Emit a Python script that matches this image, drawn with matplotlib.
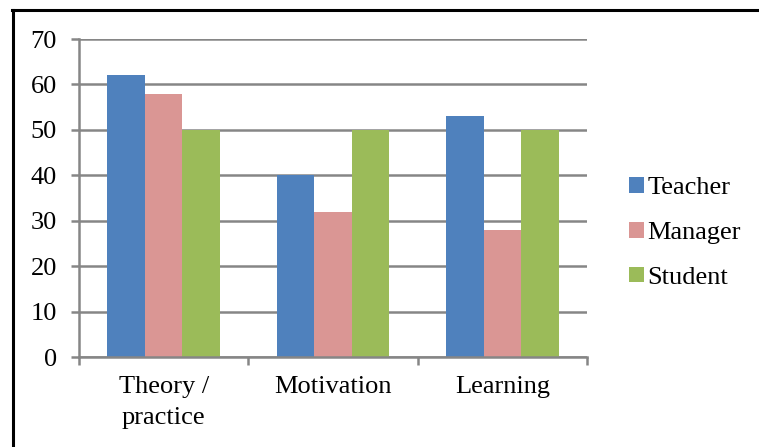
import numpy as np
import matplotlib.pyplot as plt
from matplotlib.lines import Line2D

categories = ['Theory /\npractice', 'Motivation', 'Learning']
series = ['Teacher', 'Manager', 'Student']
teacher = [62, 40, 53]
manager = [58, 32, 28]
student = [50, 50, 50]
colors = ['#4F81BD', '#DA9694', '#9BBB59']

plt.rcParams['font.family'] = ['Liberation Serif', 'DejaVu Serif']
grid_color = '#868686'

fig = plt.figure(figsize=(7.59, 4.47), dpi=100)
ax = fig.add_axes([79 / 759, 1 - 357 / 447, (587 - 79) / 759, (357 - 39) / 447])

x = np.arange(len(categories))
width = 1 / 4.5  # gap width 150%
for i, (name, vals) in enumerate(zip(series, [teacher, manager, student])):
    ax.bar(x + (i - 1) * width, vals, width, color=colors[i], label=name, zorder=3)

ax.set_xlim(-0.5, len(categories) - 0.5)
ax.set_ylim(0, 70)
ax.set_yticks(np.arange(0, 71, 10))
ax.yaxis.grid(True, color=grid_color, linewidth=1.8, zorder=0)

# category labels centred, ticks between categories
ax.set_xticks(x)
ax.set_xticklabels(categories, fontsize=19, linespacing=1.5)
ax.set_xticks(np.arange(-0.5, len(categories)), minor=True)
ax.tick_params(axis='x', which='major', length=0, pad=14)
ax.tick_params(axis='x', which='minor', length=6, width=1.8, color=grid_color)
ax.tick_params(axis='y', length=6, width=1.8, color=grid_color, labelsize=19, pad=10)

for side in ['top', 'right']:
    ax.spines[side].set_visible(False)
for side in ['left', 'bottom']:
    ax.spines[side].set_color(grid_color)
    ax.spines[side].set_linewidth(1.8)
    ax.spines[side].set_zorder(4)

fig.legend(loc='center left', bbox_to_anchor=(629 / 759, 1 - 233 / 447),
           frameon=False, fontsize=19, handlelength=0.55, handleheight=0.55,
           handletextpad=0.15, labelspacing=0.85, borderaxespad=0,
           borderpad=0)

# outer frame (top and left edges)
fig.add_artist(Line2D([13 / 759, 13 / 759], [0, 1 - 10 / 447], color='black',
                      linewidth=2.2, transform=fig.transFigure))
fig.add_artist(Line2D([12 / 759, 1], [1 - 10 / 447, 1 - 10 / 447], color='black',
                      linewidth=2.2, transform=fig.transFigure))

fig.savefig('out.png', dpi=100)
